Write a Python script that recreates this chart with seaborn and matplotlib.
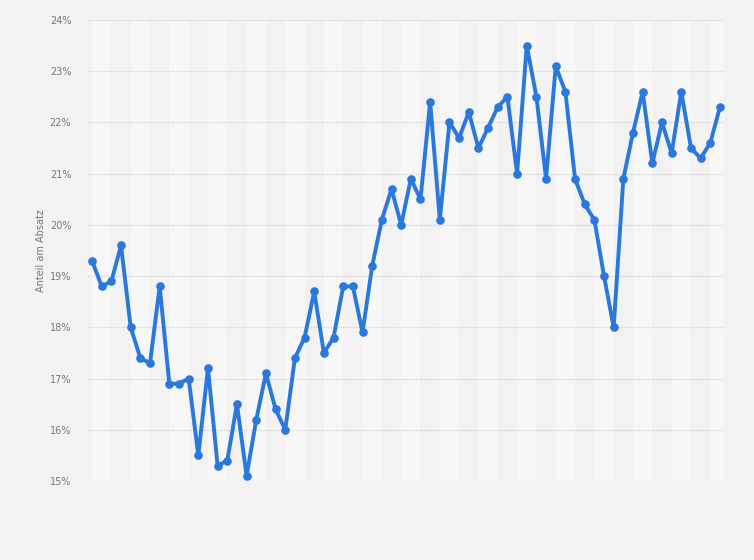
import matplotlib
matplotlib.use("Agg")
import matplotlib.pyplot as plt
import seaborn as sns
import pandas as pd
import numpy as np

# Data (share of sales, %), 66 periods
share = [19.3, 18.8, 18.9, 19.6, 18.0, 17.4, 17.3, 18.8, 16.9, 16.9,
         17.0, 15.5, 17.2, 15.3, 15.4, 16.5, 15.1, 16.2, 17.1, 16.4,
         16.0, 17.4, 17.8, 18.7, 17.5, 17.8, 18.8, 18.8, 17.9, 19.2,
         20.1, 20.7, 20.0, 20.9, 20.5, 22.4, 20.1, 22.0, 21.7, 22.2,
         21.5, 21.9, 22.3, 22.5, 21.0, 23.5, 22.5, 20.9, 23.1, 22.6,
         20.9, 20.4, 20.1, 19.0, 18.0, 20.9, 21.8, 22.6, 21.2, 22.0,
         21.4, 22.6, 21.5, 21.3, 21.6, 22.3]
periods = list(range(len(share)))
y_ticks = [15, 16, 17, 18, 19, 20, 21, 22, 23, 24]
y_tick_labels = [f"{v}%" for v in y_ticks]
y_label = "Anteil am Absatz"

df = pd.DataFrame({"period": periods, "share": share})

sns.set_style("white")
plt.rcParams['font.family'] = ['DejaVu Sans']

bg = "#f2f2f2"
fig = plt.figure(figsize=(7.54, 5.60), dpi=100, facecolor=bg)
ax = fig.add_axes([88/754, 1 - 481/560, (724 - 88)/754, (481 - 20)/560])
ax.set_facecolor(bg)

n = len(periods)
for start in range(0, n, 4):
    ax.axvspan(start, start + 2, color="#f7f7f7", zorder=0, lw=0)

for v in y_ticks:
    ax.axhline(v, color="#d2d2d2", lw=0.9, ls=(0, (1, 1)), zorder=1)

sns.lineplot(data=df, x="period", y="share", ax=ax, color="#2a77dd",
             linewidth=2.8, marker="o", markersize=6.2,
             markeredgewidth=0, zorder=3)

ax.set_xlim(-0.42, n - 1 + 0.42)
ax.set_ylim(15, 24)
ax.set_yticks(y_ticks)
ax.set_yticklabels(y_tick_labels, fontsize=7, color="#777777")
ax.set_xticks([])
ax.set_xlabel("")
ax.set_ylabel(y_label, fontsize=7, color="#777777", labelpad=3)
ax.tick_params(axis="y", length=0, pad=12)
for s in ax.spines.values():
    s.set_visible(False)

fig.savefig("out.png", dpi=100, facecolor=bg)
